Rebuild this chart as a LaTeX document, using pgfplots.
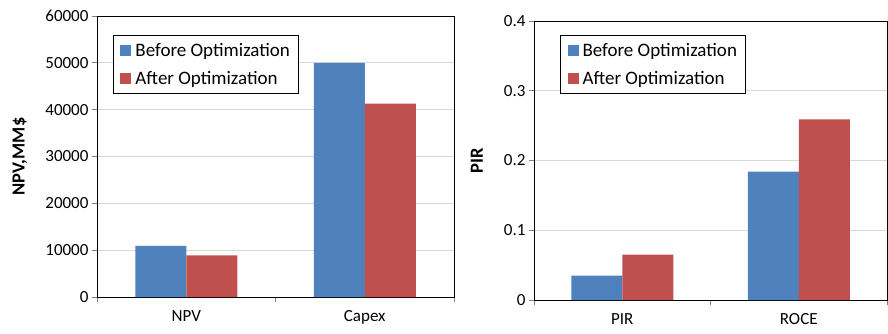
\documentclass[border=0pt]{standalone}
\usepackage{pgfplots}
\pgfplotsset{compat=1.18}
\usepackage{fontspec}
\setmainfont{Carlito}
\definecolor{xlblue}{HTML}{4F81BD}
\definecolor{xlred}{HTML}{C0504D}
\definecolor{gridgray}{HTML}{D9D9D9}
\pgfplotsset{
  mybars/.style={
    scale only axis,
    ybar=0pt, bar width=51pt,
    xmin=0.5, xmax=2.5, ymin=0,
    xtick={1,2},
    minor xtick={0.5,1.5,2.5},
    major x tick style={draw=none},
    minor x tick style={draw=gray, line width=1pt},
    y tick style={draw=gray, line width=1pt},
    major tick length=5pt, minor tick length=5pt,
    tick align=outside, tick pos=left,
    ymajorgrids, grid style={gridgray, line width=1pt},
    axis line style={black, line width=1pt},
    /pgf/number format/assume math mode=true,
    yticklabel style={font=\fontsize{17}{20}\selectfont},
    xticklabel style={font=\fontsize{17}{20}\selectfont, yshift=-5pt},
    ylabel style={font=\bfseries\fontsize{18.5}{20}\selectfont, anchor=center},
    legend cell align=left,
    legend image code/.code={\fill[#1] (0pt,-5.5pt) rectangle (11pt,5.5pt);},
    legend style={anchor=north west, draw=black, line width=1pt, fill=white,
      font=\fontsize{19}{22}\selectfont, row sep=9pt, inner xsep=7pt, inner ysep=6pt,
      /tikz/every odd column/.append style={column sep=2pt}},
  }
}
\begin{document}
\begin{tikzpicture}
\useasboundingbox (0,0) rectangle (888pt,333pt);
\begin{axis}[mybars,
  at={(97pt,36pt)}, anchor=south west,
  width=357pt, height=281pt,
  ymax=60000, ytick={0,10000,...,60000},
  scaled y ticks=false,
  yticklabel style={/pgf/number format/set thousands separator={}},
  xticklabels={NPV,Capex},
  ylabel={NPV,MM\$},
  ylabel style={at={(axis description cs:-0.2157,0.5)}},
  legend style={at={(axis description cs:0.0448,0.9324)}},
]
\addplot[fill=xlblue, draw=none] coordinates {(1,10900) (2,50000)};
\addplot[fill=xlred, draw=none] coordinates {(1,8900) (2,41300)};
\legend{Before Optimization, After Optimization}
\end{axis}
\begin{axis}[mybars,
  at={(534pt,33pt)}, anchor=south west,
  width=353pt, height=279pt,
  ymax=0.4, ytick={0,0.1,0.2,0.3,0.4},
  yticklabel style={/pgf/number format/fixed},
  xticklabels={PIR,ROCE},
  ylabel={PIR},
  ylabel style={at={(axis description cs:-0.1615,0.5)}},
  legend style={at={(axis description cs:0.0737,0.9498)}},
]
\addplot[fill=xlblue, draw=none] coordinates {(1,0.035) (2,0.184)};
\addplot[fill=xlred, draw=none] coordinates {(1,0.065) (2,0.259)};
\legend{Before Optimization, After Optimization}
\end{axis}
\end{tikzpicture}
\end{document}
